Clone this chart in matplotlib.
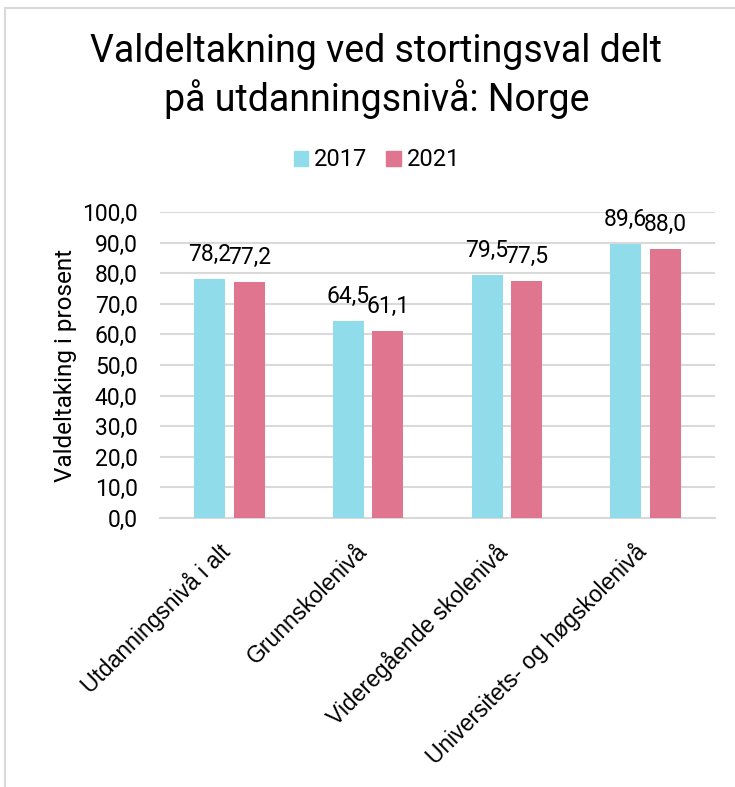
import matplotlib
matplotlib.use("Agg")
import matplotlib.pyplot as plt
from matplotlib.patches import Rectangle, Patch
from matplotlib.transforms import ScaledTranslation
import numpy as np

categories = ["Utdanningsnivå i alt", "Grunnskolenivå",
              "Videregående skolenivå", "Universitets- og høgskolenivå"]
years = ["2017", "2021"]
v2017 = [78.2, 64.5, 79.5, 89.6]
v2021 = [77.2, 61.1, 77.5, 88.0]

c2017 = "#91dcea"
c2021 = "#e07590"
grid_c = "#d9d9d9"

plt.rcParams["font.family"] = ["Roboto", "DejaVu Sans"]

fig = plt.figure(figsize=(7.35, 7.87), dpi=100)
ax = fig.add_axes([160/735, 1-518/787, 555/735, 306/787])

x = np.arange(len(categories))
w = 0.223
off = 0.143
b1 = ax.bar(x - off, v2017, w, color=c2017, zorder=3)
b2 = ax.bar(x + off, v2021, w, color=c2021, zorder=3)

for bars, vals in ((b1, v2017), (b2, v2021)):
    for r, v in zip(bars, vals):
        ax.annotate(f"{v:.1f}".replace(".", ","),
                    xy=(r.get_x() + r.get_width()/2, v),
                    xytext=(0, 17.5), textcoords="offset points",
                    ha="center", va="center", fontsize=16.5, color="#000000")

ax.set_xlim(-0.5, 3.5)
ax.set_ylim(0, 100)
yt = np.arange(0, 101, 10)
ax.set_yticks(yt)
ax.set_yticklabels([f"{t:.1f}".replace(".", ",") for t in yt], fontsize=16.5)
ax.tick_params(axis="y", length=0, pad=16)
ax.yaxis.grid(True, color=grid_c, linewidth=1.5, zorder=0)
ax.set_axisbelow(True)
for s in ("top", "right", "left"):
    ax.spines[s].set_visible(False)
ax.spines["bottom"].set_color(grid_c)
ax.spines["bottom"].set_linewidth(1.5)

ax.set_xticks(x)
ax.set_xticklabels(categories, rotation=45, ha="right", rotation_mode="anchor",
                   fontsize=16.5, family=["Liberation Sans", "DejaVu Sans"])
ax.tick_params(axis="x", length=0, pad=14)
shift = ScaledTranslation(-0.12, -0.02, fig.dpi_scale_trans)
for lbl in ax.get_xticklabels():
    lbl.set_transform(lbl.get_transform() + shift)

ax.set_ylabel("Valdeltaking i prosent", fontsize=17.5)
ax.yaxis.set_label_coords(-0.15, 0.5)

fig.text(0.512, 1-76/787, "Valdeltakning ved stortingsval delt\npå utdanningsnivå: Norge",
         ha="center", va="center", fontsize=27, linespacing=1.3)

handles = [Patch(color=c2017, label=years[0]), Patch(color=c2021, label=years[1])]
fig.legend(handles=handles, loc="center", bbox_to_anchor=(377/735, 1-160/787), ncol=2,
           frameon=False, fontsize=17, handlelength=0.6, handleheight=0.6,
           handletextpad=0.25, columnspacing=0.8)

fig.add_artist(Rectangle((5/735, -0.1), 1.0, 0.1 + (787-8)/787, transform=fig.transFigure,
                         fill=False, edgecolor=grid_c, linewidth=1.5))

fig.savefig("out.png", dpi=100)
